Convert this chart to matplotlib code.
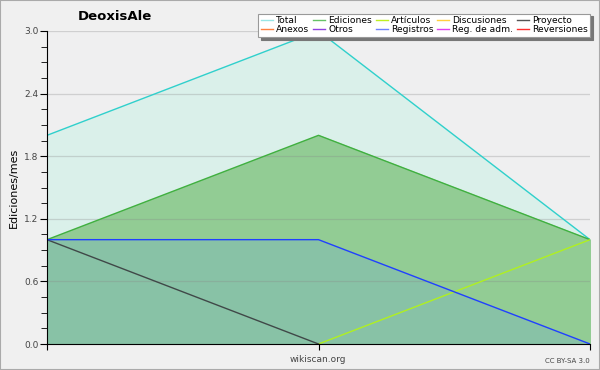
import matplotlib
matplotlib.use("Agg")
import matplotlib.pyplot as plt
from matplotlib.patches import Rectangle
from matplotlib.lines import Line2D

x = [0, 1, 2]
total = [2, 3, 1]
ediciones = [1, 2, 1]
articulos = [None, 0, 1]
proyecto = [1, 0, None]
registros = [1, 1, 0]

legend_labels = ["Total", "Ediciones", "Artículos", "Discusiones", "Proyecto",
                 "Anexos", "Otros", "Registros", "Reg. de adm.", "Reversiones"]
legend_colors = ["#99e6e6", "#66c266", "#c0f020", "#ffd040", "#555555",
                 "#ff8040", "#9040e0", "#7080ff", "#e040f0", "#ff3030"]

fig = plt.figure(figsize=(6, 3.7), dpi=100, facecolor="#f0f0f0")
ax = fig.add_axes([47/600, 1-344/370, (590-47)/600, (344-31)/370])
ax.set_facecolor("#efeff0")

ax.fill_between(x, total, color="#daf0ea", zorder=1)
ax.fill_between(x, ediciones, color="#92cc94", zorder=2)
ax.fill_between(x, registros, color="#88c2a6", zorder=3)

ax.plot(x, total, color="#30d0cc", lw=1, zorder=5)
ax.plot(x, ediciones, color="#40b040", lw=1, zorder=5)
ax.plot(x[1:], articulos[1:], color="#b0f020", lw=1, zorder=5)
ax.plot(x[:2], proyecto[:2], color="#404848", lw=1, zorder=5)
ax.plot(x, registros, color="#2040ff", lw=1, zorder=6)

ax.set_xlim(0, 2)
ax.set_ylim(0, 3.0)
ax.set_yticks([0, 0.6, 1.2, 1.8, 2.4, 3.0])
ax.set_yticklabels(["0.0", "0.6", "1.2", "1.8", "2.4", "3.0"])
ax.set_yticks([i*0.15 for i in range(21)], minor=True)
ax.set_xticks([0, 1, 2])
ax.set_xticklabels(["", "", ""])
for yv in [0.6, 1.2, 1.8, 2.4, 3.0]:
    ax.axhline(yv, color="#888888", alpha=0.3, lw=0.9, zorder=4)
for s in ["top", "right"]:
    ax.spines[s].set_visible(False)
ax.spines["left"].set_zorder(10)
ax.spines["bottom"].set_zorder(10)
ax.tick_params(axis="y", which="major", length=5, labelsize=6.5, labelcolor="#444444", pad=1)
ax.tick_params(axis="y", which="minor", length=4)
ax.tick_params(axis="x", length=4)

ax.set_ylabel("Ediciones/mes", fontsize=8, labelpad=4)
fig.text(115/600, 1-17/370, "DeoxisAle", fontsize=9.5, fontweight="bold", ha="center", va="center")
fig.text(318/600, 1-360/370, "wikiscan.org", fontsize=6.5, color="#444444", ha="center", va="center")
fig.text(590/600, 1-361/370, "CC BY-SA 3.0", fontsize=5, color="#444444", ha="right", va="center")

handles = [Line2D([], [], color=c, lw=1) for c in legend_colors]
order = []
for col in range(5):
    order += [col, col + 5]
leg = fig.legend([handles[i] for i in order], [legend_labels[i] for i in order],
                 ncol=5, loc="upper right", bbox_to_anchor=(595/600, 1-9/370),
                 fontsize=6.6, frameon=True, fancybox=False, edgecolor="#999999",
                 facecolor="white", framealpha=1, handlelength=1.3, handletextpad=0.35,
                 columnspacing=0.4, labelspacing=0.0, borderpad=0.3,
                 shadow={"color": "#777777", "alpha": 1})
leg.get_frame().set_linewidth(0.8)

fig.add_artist(Rectangle((0, 0), 1, 1, transform=fig.transFigure, fill=False,
                         edgecolor="#aaaaaa", lw=1.5))

fig.savefig("out.png", dpi=100, facecolor=fig.get_facecolor())
